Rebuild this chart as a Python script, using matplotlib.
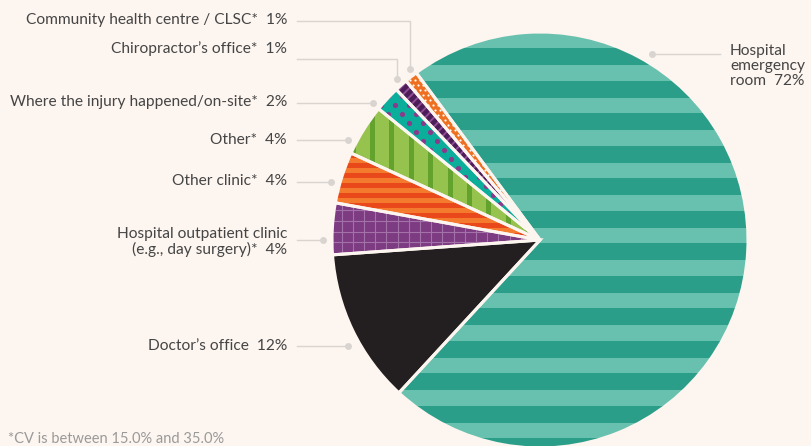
import numpy as np
import matplotlib.pyplot as plt
from matplotlib.patches import Rectangle, Wedge

# %% Data.
categories = [
    "Hospital emergency room",
    "Doctor's office",
    "Hospital outpatient clinic (e.g., day surgery)*",
    "Other clinic*",
    "Other*",
    "Where the injury happened/on-site*",
    "Chiropractor's office*",
    "Community health centre / CLSC*",
]
values = [72, 12, 4, 4, 4, 2, 1, 1]
label_texts = [
    "Hospital\nemergency\nroom  72%",
    "Doctor\u2019s office  12%",
    "Hospital outpatient clinic\n(e.g., day surgery)*  4%",
    "Other clinic*  4%",
    "Other*  4%",
    "Where the injury happened/on-site*  2%",
    "Chiropractor\u2019s office*  1%",
    "Community health centre / CLSC*  1%",
]
footnote = "*CV is between 15.0% and 35.0%"

# %% Style.
bg = '#fdf5ef'
text_color = '#454545'
leader_color = '#d9d4d0'
base_colors = ['#67c1ae', '#231f20', '#7d3c82', '#f47b2e',
               '#95c34d', '#0aae9b', '#8d4c93', '#f07021']

cx, cy, R = 540, 240, 208

fig = plt.figure(figsize=(8.11, 4.46), dpi=100, facecolor=bg)
ax = fig.add_axes([0, 0, 1, 1])
ax.set_facecolor(bg)

# y axis is inverted, so data counterclockwise is clockwise on screen
wedges, _ = ax.pie(values, radius=R, center=(cx, cy), startangle=-126.5,
                   counterclock=True, colors=base_colors,
                   wedgeprops=dict(edgecolor='none', linewidth=0))
ax.set_xlim(0, 811)
ax.set_ylim(446, 0)
ax.set_aspect('equal')
ax.axis('off')

x0, x1 = cx - R - 5, cx + R + 5
y0, y1 = cy - R - 5, cy + R + 5


def clip(artist, w):
    artist.set_clip_path(w)
    artist.set_zorder(2)


# emergency: horizontal teal stripes
w = wedges[0]
for y in np.arange(113 - 32.5 * 5, y1, 32.5):
    r = Rectangle((x0, y), x1 - x0, 17, fc='#2b9e8a', ec='none')
    ax.add_patch(r)
    clip(r, w)

# outpatient: light grid
w = wedges[2]
for x in np.arange(341.7 - 11.2 * 3, cx + 5, 11.2):
    ln, = ax.plot([x, x], [y0, y1], color='#a272a8', lw=0.8)
    clip(ln, w)
for y in np.arange(211.7 - 11 * 3, 270, 10.6):
    ln, = ax.plot([x0, cx + 5], [y, y], color='#a272a8', lw=0.8)
    clip(ln, w)

# other clinic: orange stripes
w = wedges[3]
for y in np.arange(153, 245, 10):
    r = Rectangle((x0, y), cx - x0 + 5, 5, fc='#e9481a', ec='none')
    ax.add_patch(r)
    clip(r, w)

# other: vertical green stripes
w = wedges[4]
for x in np.arange(370 - 19.4, cx + 5, 19.4):
    r = Rectangle((x, y0), 5, 260, fc='#62a22d', ec='none')
    ax.add_patch(r)
    clip(r, w)

# on-site: purple dots
w = wedges[5]
px, py = [], []
for j, y in enumerate(np.arange(60, 250, 9)):
    off = 7 if j % 2 else 0
    for x in np.arange(360 + off, cx + 5, 14):
        px.append(x)
        py.append(y)
sc = ax.scatter(px, py, s=14, color='#8a3a8a', linewidths=0)
clip(sc, w)

# chiropractor: diagonal stripes
w = wedges[6]
for k in np.arange(-300, 400, 9):
    ln, = ax.plot([x0 + k, x0 + k + 250], [y0 + 250, y0], color='#4d1d59', lw=3.2,
                  solid_capstyle='butt')
    clip(ln, w)

# community: white dots
w = wedges[7]
px, py = [], []
for j, y in enumerate(np.arange(60, 250, 5)):
    off = 2.5 if j % 2 else 0
    for x in np.arange(400 + off, cx + 5, 5):
        px.append(x)
        py.append(y)
sc = ax.scatter(px, py, s=2.5, color='white', linewidths=0)
clip(sc, w)

# wedge separators
for w in wedges:
    ax.add_patch(Wedge(w.center, w.r, w.theta1, w.theta2, fc='none', ec=bg,
                       lw=2.2, zorder=5))

# %% Labels and leader lines.
fs = 11.2
label_x = 287
line_x = 297
label_y = [None, 346, 242, 181, 140, 102, 49, 20]
line_y = [54, 346, 240, 182, 140, 103, 59, 21]
dot_xy = [(652, 54), (348, 346), (323, 240), (331, 182), (348, 140),
          (373, 103), (397, 79), (410, 69)]

for i, txt in enumerate(label_texts):
    dx, dy = dot_xy[i]
    if i == 0:
        ax.plot([dx, 720], [dy, dy], color=leader_color, lw=1, zorder=6)
        ax.text(730, 66, txt, ha='left', va='center', fontsize=fs,
                family='Lato', color=text_color, linespacing=1.12)
    else:
        ly = line_y[i]
        ax.plot([line_x, dx, dx], [ly, ly, dy], color=leader_color, lw=1,
                zorder=6)
        ax.text(label_x, label_y[i], txt, ha='right', va='center',
                fontsize=fs, family='Lato', color=text_color,
                linespacing=1.12)
    ax.plot(dx, dy, 'o', ms=5, color=leader_color, mec='none', zorder=6)

ax.text(8, 432, footnote, ha='left', va='top', fontsize=10.5, family='Lato',
        color='#9a9a9a')

plt.savefig('out.png', dpi=100, facecolor=bg)
